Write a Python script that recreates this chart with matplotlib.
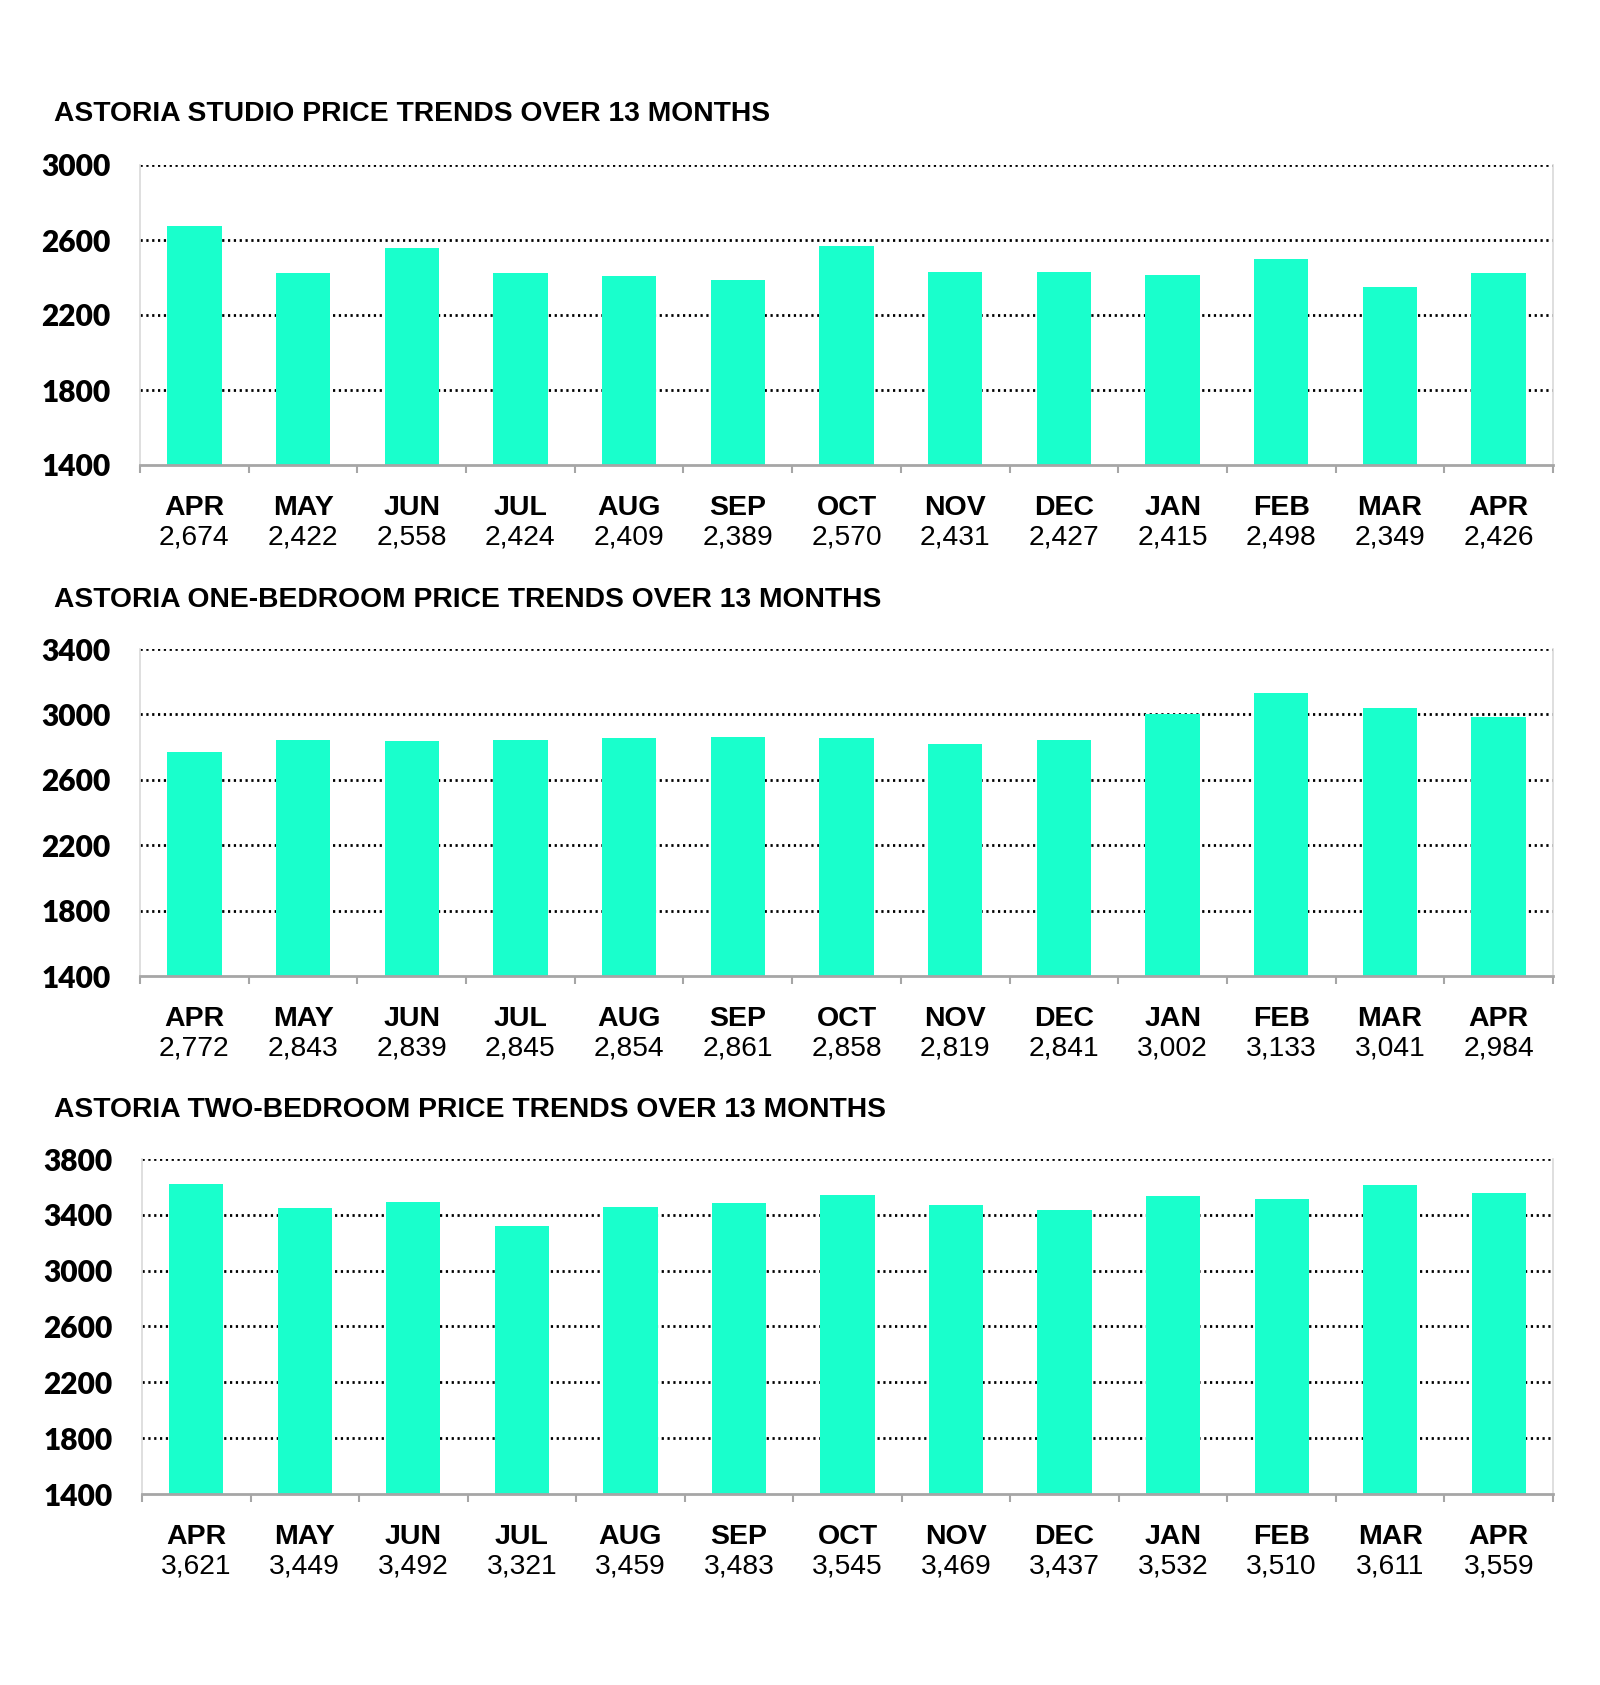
import matplotlib
matplotlib.use("Agg")
import matplotlib.pyplot as plt
from matplotlib.ticker import FixedLocator

months = ["APR", "MAY", "JUN", "JUL", "AUG", "SEP", "OCT", "NOV", "DEC", "JAN", "FEB", "MAR", "APR"]
studio = [2674, 2422, 2558, 2424, 2409, 2389, 2570, 2431, 2427, 2415, 2498, 2349, 2426]
one_bed = [2772, 2843, 2839, 2845, 2854, 2861, 2858, 2819, 2841, 3002, 3133, 3041, 2984]
two_bed = [3621, 3449, 3492, 3321, 3459, 3483, 3545, 3469, 3437, 3532, 3510, 3611, 3559]

titles = [
    "ASTORIA STUDIO PRICE TRENDS OVER 13 MONTHS",
    "ASTORIA ONE-BEDROOM PRICE TRENDS OVER 13 MONTHS",
    "ASTORIA TWO-BEDROOM PRICE TRENDS OVER 13 MONTHS",
]
series = [studio, one_bed, two_bed]
y_ticks = [
    [1400, 1800, 2200, 2600, 3000],
    [1400, 1800, 2200, 2600, 3000, 3400],
    [1400, 1800, 2200, 2600, 3000, 3400, 3800],
]

W, H = 1600, 1685
fig = plt.figure(figsize=(W / 100, H / 100), dpi=100)
fig.patch.set_facecolor("white")

# pixel boxes: (left, right, top, bottom), title y centre
boxes = [(140, 1553, 165, 465, 114), (140, 1553, 649, 976, 600), (142, 1553, 1159, 1494, 1110)]

BAR = "#19FFCC"
SPINE_LIGHT = "#d9d9d9"
SPINE_DARK = "#a6a6a6"

for vals, title, yt, (l, r, t, b, ty) in zip(series, titles, y_ticks, boxes):
    ax = fig.add_axes([l / W, 1 - b / H, (r - l) / W, (b - t) / H])
    x = list(range(len(months)))
    ax.bar(x, vals, width=0.5, color=BAR, zorder=3)
    ax.set_xlim(-0.5, len(months) - 0.5)
    ax.set_ylim(yt[0], yt[-1])
    ax.set_yticks(yt)
    ax.set_yticklabels([str(v) for v in yt], fontfamily="Lato", fontweight="heavy", fontsize=21.5)
    ax.tick_params(axis="y", length=0, pad=21)
    for gy in yt[1:]:
        ax.axhline(gy, color="black", lw=2.0, linestyle=(0, (0.8, 1.3)), zorder=2)
    ax.set_xticks([])
    ax.xaxis.set_minor_locator(FixedLocator([i - 0.5 for i in range(len(months) + 1)]))
    ax.tick_params(axis="x", which="minor", length=6, width=1.5, color=SPINE_DARK, direction="out")
    ax.spines["top"].set_visible(False)
    ax.spines["left"].set_color(SPINE_LIGHT)
    ax.spines["right"].set_color(SPINE_LIGHT)
    ax.spines["left"].set_linewidth(1.2)
    ax.spines["right"].set_linewidth(1.2)
    ax.spines["bottom"].set_color(SPINE_DARK)
    ax.spines["bottom"].set_linewidth(2)
    ax.spines["bottom"].set_zorder(4)
    for i, (m, v) in enumerate(zip(months, vals)):
        ax.annotate(m, xy=(i, 0), xycoords=("data", "axes fraction"),
                    xytext=(0, -31), textcoords="offset points",
                    ha="center", va="center", fontfamily="Liberation Sans",
                    fontweight="bold", fontsize=20.5, annotation_clip=False)
        ax.annotate(f"{v:,}", xy=(i, 0), xycoords=("data", "axes fraction"),
                    xytext=(0, -52), textcoords="offset points",
                    ha="center", va="center", fontfamily="Liberation Sans",
                    fontsize=20.3, annotation_clip=False)
    fig.text(54 / W, 1 - ty / H, title, ha="left", va="center",
             fontfamily="Liberation Sans", fontweight="bold", fontsize=20.3)

fig.savefig("out.png", dpi=100, facecolor="white")
